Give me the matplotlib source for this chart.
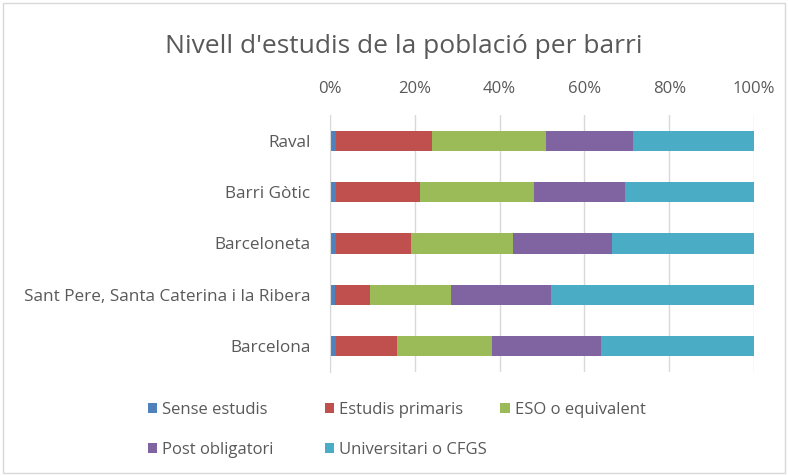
"""
Nivell d'estudis per barri - barres apilades al 100%.
"""

import matplotlib.pyplot as plt
from matplotlib.patches import Rectangle
import numpy as np

barris = ['Raval', 'Barri Gòtic', 'Barceloneta',
          'Sant Pere, Santa Caterina i la Ribera', 'Barcelona']
nivells = ['Sense estudis', 'Estudis primaris', 'ESO o equivalent',
           'Post obligatori', 'Universitari o CFGS']

# percentatges per barri (llegits del gràfic)
sense_estudis = [1.4, 1.3, 1.4, 1.2, 1.4]
estudis_primaris = [22.6, 19.9, 17.6, 8.2, 14.5]
eso = [26.9, 26.8, 24.2, 19.1, 22.4]
post_obligatori = [20.6, 21.6, 23.2, 23.6, 25.6]
universitari = [28.5, 30.4, 33.6, 47.9, 36.1]

colors = ['#4F81BD', '#C0504D', '#9BBB59', '#8064A2', '#4BACC6']
text_color = '#595959'

plt.rcParams['font.family'] = ['Open Sans', 'DejaVu Sans']

fig = plt.figure(figsize=(7.88, 4.76), dpi=100)
ax = fig.add_axes([0.4188, 0.2185, 0.5381, 0.5399])

series = [sense_estudis, estudis_primaris, eso, post_obligatori, universitari]
y = np.arange(len(barris))
left = np.zeros(len(barris))
handles = []
for vals, color, name in zip(series, colors, nivells):
    h = ax.barh(y, vals, left=left, height=0.39, color=color, label=name)
    handles.append(h)
    left += np.array(vals)

ax.set_xlim(0, 100)
ax.set_ylim(len(barris) - 0.5, -0.5)
ax.set_yticks(y)
ax.set_yticklabels(barris, fontsize=12.3, color=text_color)
ax.set_xticks(range(0, 101, 20))
ax.set_xticklabels([f'{v}%' for v in range(0, 101, 20)], fontsize=12, color=text_color)
ax.xaxis.tick_top()
ax.tick_params(axis='x', length=0, pad=13)
ax.tick_params(axis='y', length=0, pad=14)
ax.grid(axis='x', color='#D9D9D9', linewidth=1)
ax.set_axisbelow(True)
for side in ['top', 'right', 'bottom']:
    ax.spines[side].set_visible(False)
ax.spines['left'].set_color('#D9D9D9')

fig.text(0.512, 0.889, "Nivell d'estudis de la població per barri",
         ha='center', va='baseline', fontsize=19, color=text_color)

# llegenda en dues files, columnes d'amplada igual com a Excel
legend_x = [0.188, 0.412, 0.635, 0.188, 0.412]
legend_y = [0.139, 0.139, 0.139, 0.055, 0.055]
for h, name, lx, ly in zip(handles, nivells, legend_x, legend_y):
    fig.legend([h], [name], loc='center left', bbox_to_anchor=(lx, ly),
               frameon=False, fontsize=12, labelcolor=text_color,
               handlelength=0.55, handleheight=0.55, handletextpad=0.3,
               borderpad=0, borderaxespad=0)

fig.patches.append(Rectangle((0.004, 0.006), 0.992, 0.988, transform=fig.transFigure,
                             fill=False, edgecolor='#D9D9D9', linewidth=1))

fig.savefig('out.png', dpi=100)
